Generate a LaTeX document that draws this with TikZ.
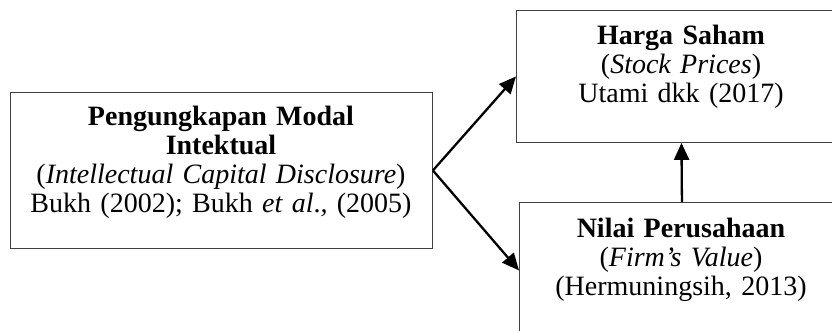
\documentclass[tikz,border=0pt]{standalone}
\usepackage{fontspec}
\setmainfont{Liberation Serif}
\usetikzlibrary{arrows.meta}
\begin{document}
\begin{tikzpicture}[x=1pt,y=-1pt,
  box/.style={draw=black!75, line width=0.9pt, inner sep=0pt},
  txt/.style={align=center, inner sep=0pt, font=\fontsize{28}{29}\selectfont, text width=420pt},
  arr/.style={line width=2.3pt, -{Triangle[length=17pt,width=15pt]}}]
\useasboundingbox (0,0) rectangle (832,331);
\begin{scope}
\clip (0,0) rectangle (832,331);
\node[box, minimum width=422pt, minimum height=156pt, anchor=north west] (L) at (10,92) {};
\node[box, minimum width=330pt, minimum height=132pt, anchor=north west] (T) at (516,10) {};
\node[box, minimum width=325pt, minimum height=136pt, anchor=north west] (B) at (519,202) {};
\node[txt, anchor=base] (Lt) at (221,126) {{\bfseries Pengungkapan Modal\\ Intektual}\\ (\textit{Intellectual Capital Disclosure})\\ Bukh (2002); Bukh \textit{et al}.\textit{,} (2005)};
\node[txt, anchor=base] (Tt) at (681,45) {\textbf{Harga Saham}\\ (\textit{Stock Prices})\\ Utami dkk (2017)};
\node[txt, anchor=base] (Bt) at (681,237) {\textbf{Nilai Perusahaan}\\ (\textit{Firm’s Value})\\ (Hermuningsih, 2013)};
\draw[arr] (L.east) -- (T.west);
\draw[arr] (L.east) -- (B.west);
\draw[arr] (B.north) -- (T.south);
\end{scope}
\end{tikzpicture}
\end{document}
